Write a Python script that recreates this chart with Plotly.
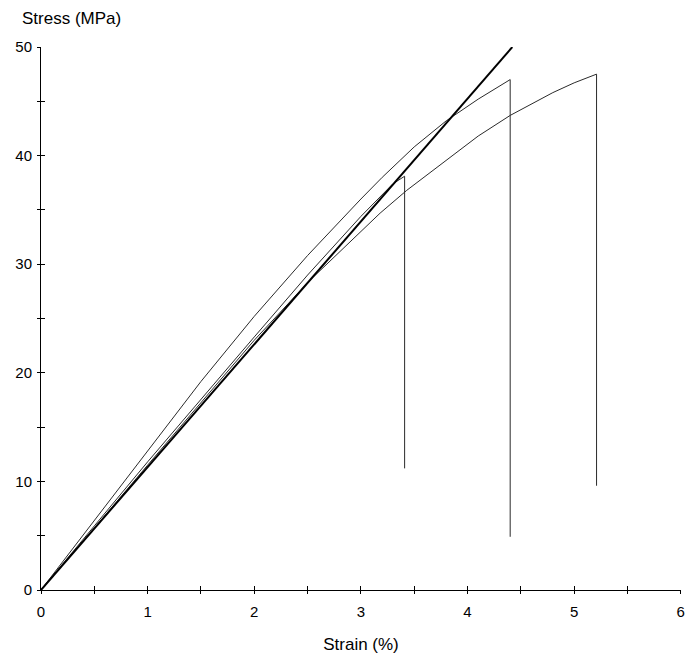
import plotly.graph_objects as go

# Fitted linear reference line (thick)
fit_strain = [0, 1.0, 2.0, 3.0, 4.0, 4.42]
fit_stress = [0, 11.3, 22.6, 33.9, 45.25, 50.0]

# Specimen A (breaks at ~3.41 %)
a_strain = [0, 0.25, 0.5, 1.0, 1.5, 2.0, 2.5, 3.0, 3.3, 3.41, 3.41]
a_stress = [0, 2.9, 5.9, 11.8, 17.6, 23.3, 29.0, 34.4, 37.4, 38.1, 11.2]

# Specimen B (breaks at ~4.40 %)
b_strain = [0, 0.25, 0.5, 1.0, 1.5, 2.0, 2.5, 3.0, 3.2, 3.5, 3.8, 4.1, 4.4, 4.4]
b_stress = [0, 3.2, 6.5, 12.9, 19.2, 25.2, 30.8, 36.0, 38.0, 40.8, 43.2, 45.2, 47.0, 4.9]

# Specimen C (breaks at ~5.21 %)
c_strain = [0, 0.25, 0.5, 1.0, 1.5, 2.0, 2.52, 3.0, 3.18, 3.43, 3.8, 4.1, 4.4, 4.8, 5.0, 5.21, 5.21]
c_stress = [0, 2.8, 5.7, 11.5, 17.3, 23.0, 28.5, 33.0, 34.7, 36.8, 39.6, 41.8, 43.7, 45.8, 46.7, 47.5, 9.6]

x_ticks = [0, 1, 2, 3, 4, 5, 6]
y_ticks = [0, 10, 20, 30, 40, 50]

fig = go.Figure()
thin = dict(color="#2a2a2a", width=1)
fig.add_trace(go.Scatter(x=c_strain, y=c_stress, mode="lines", line=thin, hoverinfo="skip"))
fig.add_trace(go.Scatter(x=b_strain, y=b_stress, mode="lines", line=thin, hoverinfo="skip"))
fig.add_trace(go.Scatter(x=a_strain, y=a_stress, mode="lines", line=thin, hoverinfo="skip"))
fig.add_trace(go.Scatter(x=fit_strain, y=fit_stress, mode="lines",
                         line=dict(color="black", width=2), hoverinfo="skip"))
# invisible trace to create overlay axes (for ticks crossing the axis lines)
fig.add_trace(go.Scatter(x=[0, 6], y=[0, 50], xaxis="x2", yaxis="y2", mode="lines",
                         line=dict(width=0, color="rgba(0,0,0,0)"), hoverinfo="skip"))

font_ticks = dict(family="Liberation Sans, Arial", size=15, color="black")
font_title = dict(family="Liberation Sans, Arial", size=17, color="black")

X_RANGE = [0, 6.002]
common_x = dict(range=X_RANGE, showgrid=False, zeroline=False, automargin=False,
                showline=True, linecolor="black", linewidth=1)
common_y = dict(range=[0, 50], showgrid=False, zeroline=False, automargin=False,
                showline=True, linecolor="black", linewidth=1)

fig.update_layout(
    width=685, height=657,
    margin=dict(l=41, r=4, t=47, b=67),
    paper_bgcolor="white", plot_bgcolor="white",
    showlegend=False,
    xaxis=dict(**common_x, tickvals=x_ticks, ticktext=[str(v) for v in x_ticks],
               ticks="outside", ticklen=3, tickcolor="black", tickfont=font_ticks,
               ticklabeloverflow="allow", ticklabelstandoff=5,
               minor=dict(dtick=0.5, ticks="outside", ticklen=3, tickcolor="black"),
               title=dict(text="Strain (%)", font=font_title, standoff=19)),
    yaxis=dict(**common_y, tickvals=y_ticks, ticktext=[str(v) for v in y_ticks],
               ticks="outside", ticklen=3, tickcolor="black", tickfont=font_ticks,
               ticklabeloverflow="allow", ticklabelstandoff=2,
               minor=dict(dtick=5, ticks="outside", ticklen=3, tickcolor="black")),
    xaxis2=dict(**common_x, overlaying="x", anchor="y2", side="bottom", tickvals=x_ticks,
                ticks="inside", ticklen=4, tickcolor="black", showticklabels=False,
                minor=dict(dtick=0.5, ticks="inside", ticklen=4, tickcolor="black")),
    yaxis2=dict(**common_y, overlaying="y", anchor="x2", side="left", tickvals=y_ticks,
                ticks="inside", ticklen=4, tickcolor="black", showticklabels=False,
                minor=dict(dtick=5, ticks="inside", ticklen=4, tickcolor="black")),
    annotations=[dict(text="Stress (MPa)", xref="paper", yref="paper",
                      x=-0.0328, y=1.053, xanchor="left", yanchor="middle", showarrow=False,
                      font=font_title)],
)

fig.write_html(
    "out.html",
    config={"displayModeBar": False},
    post_script="document.body.style.margin='0';document.documentElement.style.overflow='hidden';document.body.style.overflow='hidden';",
)
